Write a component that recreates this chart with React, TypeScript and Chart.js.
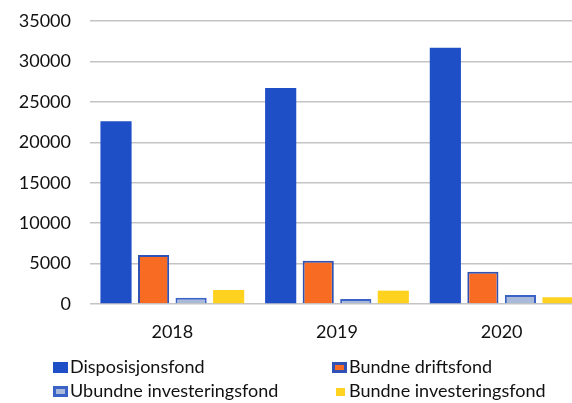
import React, { useEffect, useRef } from "react";
import { Chart, registerables } from "chart.js";

Chart.register(...registerables);

const categories = ["2018", "2019", "2020"];
const seriesLabels = [
  "Disposisjonsfond",
  "Bundne driftsfond",
  "Ubundne investeringsfond",
  "Bundne investeringsfond",
];
const disposisjonsfond = [22600, 26700, 31700];
const bundneDriftsfond = [6050, 5350, 4000];
const ubundneInvesteringsfond = [780, 620, 1100];
const bundneInvesteringsfond = [1730, 1650, 830];
const yTicks = [0, 5000, 10000, 15000, 20000, 25000, 30000, 35000];

const FONT = "Lato, 'Open Sans', sans-serif";
const TEXT = "#111111";

const fills = ["#1f4fc6", "#f86b22", "#a9b9da", "#ffd21f"];
const borders = ["#1f4fc6", "#2f52b4", "#3b62c6", "#ffd21f"];
const borderWidths = [0, 2, 2, 0];

const legendPlugin = {
  id: "gridLegend",
  afterDraw(chart: any) {
    const ctx = chart.ctx;
    ctx.save();
    ctx.font = `18px ${FONT}`;
    ctx.textBaseline = "alphabetic";
    ctx.textAlign = "left";
    const items = [
      { i: 0, x: 53, y: 362 },
      { i: 1, x: 332, y: 362 },
      { i: 2, x: 53, y: 386 },
      { i: 3, x: 332, y: 386 },
    ];
    items.forEach(({ i, x, y }) => {
      const ds = chart.data.datasets[i];
      if (i === 3) {
        ctx.fillStyle = fills[i];
        ctx.fillRect(x + 4, y + 2, 9, 8);
      } else {
        ctx.fillStyle = borders[i];
        ctx.fillRect(x, y, 15, 11);
        if (borderWidths[i]) {
          ctx.fillStyle = fills[i];
          ctx.fillRect(x + 3, y + 3, 9, 5);
        }
      }
      ctx.fillStyle = TEXT;
      ctx.fillText(ds.label, x + 17, y + 11);
    });
    ctx.restore();
  },
};

export default function App() {
  const ref = useRef<HTMLCanvasElement>(null);
  useEffect(() => {
    if (!ref.current) return;
    const datasets = [disposisjonsfond, bundneDriftsfond, ubundneInvesteringsfond, bundneInvesteringsfond].map(
      (data, i) => ({
        label: seriesLabels[i],
        data,
        backgroundColor: fills[i],
        borderColor: borders[i],
        borderWidth: borderWidths[i],
        categoryPercentage: 0.912,
        barPercentage: 0.83,
      })
    );
    const chart = new Chart(ref.current, {
      type: "bar",
      data: { labels: categories, datasets },
      plugins: [legendPlugin],
      options: {
        responsive: false,
        animation: false,
        layout: { padding: { top: 21, bottom: 0, left: 0, right: 0 } },
        plugins: {
          legend: { display: false },
          tooltip: { enabled: false },
        },
        scales: {
          x: {
            grid: { display: false, drawTicks: false },
            border: { display: false },
            ticks: { color: TEXT, font: { family: FONT, size: 18 }, padding: 17 },
            afterFit(scale: any) {
              scale.height = 99;
              scale.paddingLeft = 0;
              scale.paddingRight = 0;
            },
          },
          y: {
            min: 0,
            max: 35000,
            afterBuildTicks(scale: any) {
              scale.ticks = yTicks.map((v) => ({ value: v }));
            },
            grid: { color: "#c4c4c4", lineWidth: 1.5, drawTicks: false },
            border: { display: false },
            ticks: {
              color: TEXT,
              font: { family: FONT, size: 18 },
              padding: 19,
              callback: (v: any) => String(v),
            },
            afterFit(scale: any) {
              scale.width = 90;
              scale.paddingTop = 0;
              scale.paddingBottom = 0;
            },
          },
        },
      },
    });
    return () => chart.destroy();
  }, []);
  return (
    <div style={{ position: "fixed", left: 0, top: 0, width: 572, height: 403, overflow: "hidden", background: "#fff" }}>
      <canvas ref={ref} width={584} height={403} style={{ display: "block" }} />
    </div>
  );
}
